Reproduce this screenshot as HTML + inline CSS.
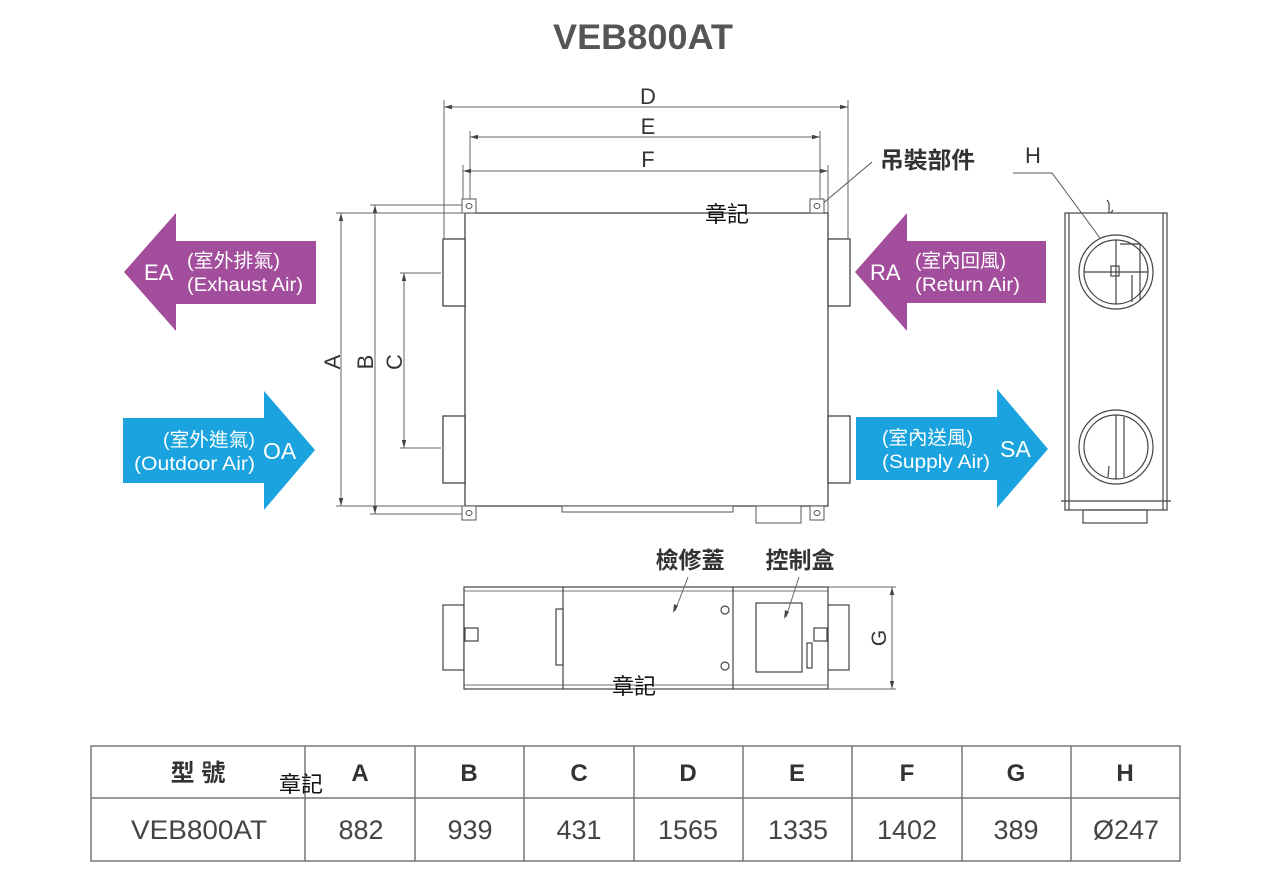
<!DOCTYPE html>
<html><head><meta charset="utf-8">
<style>
html,body{margin:0;padding:0;background:#fff;}
svg{display:block;}
text{font-family:"Liberation Sans","Noto Sans CJK TC",sans-serif;}
</style></head>
<body>
<svg width="1284" height="892" viewBox="0 0 1284 892" xmlns="http://www.w3.org/2000/svg">
<defs>
<marker id="ar" markerWidth="8" markerHeight="6" refX="8" refY="3" orient="auto" markerUnits="userSpaceOnUse">
<path d="M0,0.8 L8,3 L0,5.2 Z" fill="#444"/>
</marker>
<marker id="al" markerWidth="8" markerHeight="6" refX="0" refY="3" orient="auto" markerUnits="userSpaceOnUse">
<path d="M8,0.8 L0,3 L8,5.2 Z" fill="#444"/>
</marker>
</defs>

<!-- Title -->
<text x="643" y="49" font-size="35" font-weight="bold" fill="#555" text-anchor="middle" textLength="180" lengthAdjust="spacingAndGlyphs">VEB800AT</text>

<!-- Dimension lines D E F -->
<g stroke="#666" stroke-width="1" fill="none">
<line x1="444" y1="100" x2="444" y2="239"/>
<line x1="848" y1="100" x2="848" y2="239"/>
<line x1="444" y1="107" x2="848" y2="107" marker-start="url(#al)" marker-end="url(#ar)"/>
<line x1="470" y1="131" x2="470" y2="199"/>
<line x1="820" y1="131" x2="820" y2="199"/>
<line x1="470" y1="137" x2="820" y2="137" marker-start="url(#al)" marker-end="url(#ar)"/>
<line x1="463" y1="165" x2="463" y2="213"/>
<line x1="828" y1="165" x2="828" y2="213"/>
<line x1="463" y1="171" x2="828" y2="171" marker-start="url(#al)" marker-end="url(#ar)"/>
</g>
<text x="648" y="104" font-size="22" fill="#333" text-anchor="middle">D</text>
<text x="648" y="134" font-size="22" fill="#333" text-anchor="middle">E</text>
<text x="648" y="167" font-size="22" fill="#333" text-anchor="middle">F</text>

<!-- 吊裝部件 -->
<text x="880" y="168" font-size="23" font-weight="bold" fill="#333" textLength="95" lengthAdjust="spacingAndGlyphs">吊裝部件</text>
<line x1="872" y1="162" x2="821" y2="205" stroke="#555" stroke-width="1"/>
<circle cx="822" cy="204" r="1.8" fill="#333"/>

<!-- Main body -->
<g stroke="#444" stroke-width="1.3" fill="#fff">
<rect x="465" y="213" width="363" height="293"/>
<rect x="443" y="239" width="22" height="67"/>
<rect x="443" y="416" width="22" height="67"/>
<rect x="828" y="239" width="22" height="67"/>
<rect x="828" y="416" width="22" height="67"/>
</g>
<!-- brackets -->
<g stroke="#555" stroke-width="1" fill="#fff">
<rect x="462" y="199" width="14" height="14"/>
<rect x="810" y="199" width="14" height="14"/>
<rect x="462" y="506" width="14" height="14"/>
<rect x="810" y="506" width="14" height="14"/>
<ellipse cx="469" cy="206" rx="3" ry="2.5"/>
<ellipse cx="817" cy="206" rx="3" ry="2.5"/>
<ellipse cx="469" cy="513" rx="3" ry="2.5"/>
<ellipse cx="817" cy="513" rx="3" ry="2.5"/>
<rect x="562" y="506" width="171" height="6"/>
<rect x="756" y="506" width="45" height="17"/>
</g>

<!-- Dimensions A B C -->
<g stroke="#666" stroke-width="1" fill="none">
<line x1="336" y1="213" x2="465" y2="213"/>
<line x1="336" y1="506" x2="465" y2="506"/>
<line x1="341" y1="213" x2="341" y2="506" marker-start="url(#al)" marker-end="url(#ar)"/>
<line x1="370" y1="205" x2="462" y2="205"/>
<line x1="370" y1="514" x2="462" y2="514"/>
<line x1="375" y1="205" x2="375" y2="514" marker-start="url(#al)" marker-end="url(#ar)"/>
<line x1="400" y1="273" x2="441" y2="273"/>
<line x1="400" y1="448" x2="441" y2="448"/>
<line x1="404" y1="273" x2="404" y2="448" marker-start="url(#al)" marker-end="url(#ar)"/>
</g>
<text transform="translate(340,362) rotate(-90)" font-size="22" fill="#333" text-anchor="middle">A</text>
<text transform="translate(373,362) rotate(-90)" font-size="22" fill="#333" text-anchor="middle">B</text>
<text transform="translate(402,362) rotate(-90)" font-size="22" fill="#333" text-anchor="middle">C</text>

<!-- Arrows -->
<polygon points="124,272 176,213 176,241 316,241 316,304 176,304 176,331" fill="#A34E9C"/>
<text x="144" y="280" font-size="22" fill="#fff">EA</text>
<text x="187" y="267" font-size="19" fill="#fff" textLength="93" lengthAdjust="spacingAndGlyphs">(室外排氣)</text>
<text x="187" y="291" font-size="19" fill="#fff" textLength="116" lengthAdjust="spacingAndGlyphs">(Exhaust Air)</text>

<polygon points="123,418 264,418 264,391 315,450 264,510 264,483 123,483" fill="#1AA3DE"/>
<text x="163" y="446" font-size="19" fill="#fff" textLength="92" lengthAdjust="spacingAndGlyphs">(室外進氣)</text>
<text x="134" y="470" font-size="19" fill="#fff" textLength="121" lengthAdjust="spacingAndGlyphs">(Outdoor Air)</text>
<text x="263" y="459" font-size="23" fill="#fff">OA</text>

<polygon points="855,272 907,213 907,241 1046,241 1046,303 907,303 907,331" fill="#A34E9C"/>
<text x="870" y="280" font-size="22" fill="#fff">RA</text>
<text x="915" y="267" font-size="19" fill="#fff" textLength="91" lengthAdjust="spacingAndGlyphs">(室內回風)</text>
<text x="915" y="291" font-size="19" fill="#fff" textLength="105" lengthAdjust="spacingAndGlyphs">(Return Air)</text>

<polygon points="856,417 997,417 997,389 1048,449 997,508 997,480 856,480" fill="#1AA3DE"/>
<text x="882" y="444" font-size="19" fill="#fff" textLength="91" lengthAdjust="spacingAndGlyphs">(室內送風)</text>
<text x="882" y="468" font-size="19" fill="#fff" textLength="108" lengthAdjust="spacingAndGlyphs">(Supply Air)</text>
<text x="1000" y="457" font-size="23" fill="#fff">SA</text>

<!-- Side view -->
<g stroke="#444" stroke-width="1.2" fill="none">
<rect x="1065" y="213" width="102" height="297" fill="#fff"/>
<line x1="1069" y1="213" x2="1069" y2="510"/>
<line x1="1163" y1="213" x2="1163" y2="510"/>
<line x1="1061" y1="501" x2="1171" y2="501"/>
<rect x="1083" y="510" width="64" height="13"/>
<path d="M1107,200 L1109,203 L1109,213 M1111,213 L1113,210"/>
<circle cx="1116" cy="272" r="37"/>
<circle cx="1116" cy="272" r="32"/>
<line x1="1084" y1="272" x2="1148" y2="272"/>
<line x1="1116" y1="240" x2="1116" y2="304"/>
<path d="M1120,244 L1140,244 L1140,300 M1132,275 L1132,302"/>
<rect x="1111" y="266" width="8" height="10"/>
<circle cx="1116" cy="447" r="37"/>
<circle cx="1116" cy="447" r="32"/>
<line x1="1116" y1="415" x2="1116" y2="479"/>
<line x1="1124" y1="417" x2="1124" y2="477"/>
<line x1="1109" y1="466" x2="1108" y2="477"/>
</g>
<text x="1033" y="163" font-size="22" fill="#333" text-anchor="middle">H</text>
<polyline points="1013,173 1052,173 1100,238" stroke="#555" stroke-width="1" fill="none"/>

<!-- Bottom view -->
<g stroke="#444" stroke-width="1.2" fill="#fff">
<rect x="443" y="605" width="21" height="65"/>
<rect x="828" y="605" width="21" height="65"/>
<rect x="464" y="587" width="364" height="102"/>
<line x1="563" y1="587" x2="563" y2="689"/>
<line x1="733" y1="587" x2="733" y2="689"/>
<line x1="464" y1="591" x2="828" y2="591" stroke-width="0.8"/>
<line x1="464" y1="685" x2="828" y2="685" stroke-width="0.8"/>
<rect x="556" y="609" width="7" height="56"/>
<rect x="756" y="603" width="46" height="69"/>
<rect x="807" y="643" width="5" height="25"/>
<rect x="465" y="628" width="13" height="13"/>
<rect x="814" y="628" width="13" height="13"/>
<circle cx="725" cy="610" r="4"/>
<circle cx="725" cy="666" r="4"/>
</g>
<g stroke="#666" stroke-width="1" fill="none">
<line x1="828" y1="587" x2="896" y2="587"/>
<line x1="828" y1="689" x2="896" y2="689"/>
<line x1="892" y1="587" x2="892" y2="689" marker-start="url(#al)" marker-end="url(#ar)"/>
<line x1="688" y1="577" x2="675" y2="611"/>
<line x1="799" y1="577" x2="786" y2="617"/>
</g>
<path d="M673,613 L674,604 L678,606 Z" fill="#444"/>
<path d="M784,619 L785,610 L789,612 Z" fill="#444"/>
<text transform="translate(886,638) rotate(-90)" font-size="21" fill="#333" text-anchor="middle">G</text>
<text x="690" y="568" font-size="23" font-weight="bold" fill="#333" text-anchor="middle">檢修蓋</text>
<text x="800" y="568" font-size="23" font-weight="bold" fill="#333" text-anchor="middle">控制盒</text>

<!-- Table -->
<g stroke="#777" stroke-width="1.5" fill="none">
<rect x="91" y="746" width="1089" height="115"/>
<line x1="91" y1="798" x2="1180" y2="798"/>
<line x1="305" y1="746" x2="305" y2="861"/>
<line x1="415" y1="746" x2="415" y2="861"/>
<line x1="524" y1="746" x2="524" y2="861"/>
<line x1="634" y1="746" x2="634" y2="861"/>
<line x1="743" y1="746" x2="743" y2="861"/>
<line x1="852" y1="746" x2="852" y2="861"/>
<line x1="962" y1="746" x2="962" y2="861"/>
<line x1="1071" y1="746" x2="1071" y2="861"/>
</g>
<g font-size="24" font-weight="bold" fill="#333" text-anchor="middle">
<text x="198" y="781">型 號</text>
<text x="360" y="781">A</text>
<text x="469" y="781">B</text>
<text x="579" y="781">C</text>
<text x="688" y="781">D</text>
<text x="797" y="781">E</text>
<text x="907" y="781">F</text>
<text x="1016" y="781">G</text>
<text x="1125" y="781">H</text>
</g>
<g font-size="27" fill="#444" text-anchor="middle">
<text x="199" y="839" textLength="136" lengthAdjust="spacingAndGlyphs">VEB800AT</text>
<text x="361" y="839">882</text>
<text x="470" y="839">939</text>
<text x="579" y="839">431</text>
<text x="688" y="839">1565</text>
<text x="798" y="839">1335</text>
<text x="907" y="839">1402</text>
<text x="1016" y="839">389</text>
<text x="1126" y="839">Ø247</text>
</g>

<!-- watermark text -->
<g font-size="22" fill="#111" font-family="'Noto Sans CJK TC',sans-serif">
<text x="705" y="222">章記</text>
<text x="612" y="694">章記</text>
<text x="279" y="792">章記</text>
</g>
</svg>
</body></html>
